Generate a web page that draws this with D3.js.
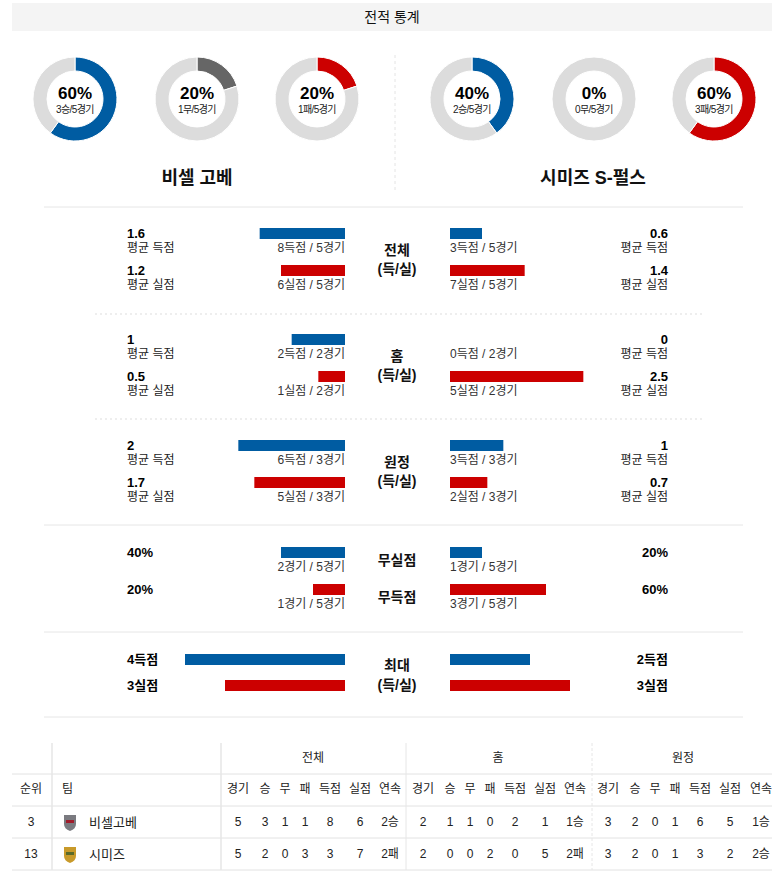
<!DOCTYPE html>
<html><head><meta charset="utf-8">
<script src="https://cdn.jsdelivr.net/npm/d3@7"></script>
<style>
body{margin:0;background:#fff;}
svg{display:block;font-family:"Liberation Sans",Arial,"Noto Sans CJK KR",sans-serif;}
</style></head><body>
<svg id="c" width="784" height="879"></svg>
<script>
// ---------- data ----------
const title = "전적 통계";
const teams = ["비셀 고베", "시미즈 S-펄스"];
const resultKinds = ["승", "무", "패"];
const teamResults = [[3, 1, 1], [2, 0, 3]];
const gamesPlayed = [5, 5];

const sectionNames = [["전체", "(득/실)"], ["홈", "(득/실)"], ["원정", "(득/실)"]];
const avgLabels = ["평균 득점", "평균 실점"];
const viselAvg = [[1.6, 1.2], [1, 0.5], [2, 1.7]];
const viselCounts = [[8, 6, 5], [2, 1, 2], [6, 5, 3]];   // scored, conceded, games
const shimizuAvg = [[0.6, 1.4], [0, 2.5], [1, 0.7]];
const shimizuCounts = [[3, 7, 5], [0, 5, 2], [3, 2, 3]];

const pctNames = ["무실점", "무득점"];
const viselPctGames = [2, 1];
const shimizuPctGames = [1, 3];

const maxNames = ["최대", "(득/실)"];
const viselMax = [4, 3];
const shimizuMax = [2, 3];

const tableGroups = ["전체", "홈", "원정"];
const tableCols = ["경기", "승", "무", "패", "득점", "실점", "연속"];
const tableRanks = [3, 13];
const tableTeams = ["비셀고베", "시미즈"];
const tableRows = [
  [[5, 3, 1, 1, 8, 6, "2승"], [2, 1, 1, 0, 2, 1, "1승"], [3, 2, 0, 1, 6, 5, "1승"]],
  [[5, 2, 0, 3, 3, 7, "2패"], [2, 0, 0, 2, 0, 5, "2패"], [3, 2, 0, 1, 3, 2, "2승"]]
];

// ---------- style ----------
const BLUE = "#005ca2", RED = "#cc0000", DGRAY = "#666666", LGRAY = "#dcdcdc";
const svg = d3.select("#c");

// header
svg.append("rect").attr("x", 12).attr("y", 3).attr("width", 760).attr("height", 28).attr("fill", "#f4f4f4");
svg.append("text").attr("x", 392).attr("y", 17).attr("text-anchor", "middle").attr("dominant-baseline", "central")
  .attr("font-size", 14).attr("fill", "#111").text(title);

// divider
svg.append("line").attr("x1", 395).attr("x2", 395).attr("y1", 55).attr("y2", 190)
  .attr("stroke", "#e4e4e4").attr("stroke-dasharray", "3,3");

// ---------- donuts ----------
const donutX = [[75, 197, 317], [472, 594, 714]];
const donutColors = [BLUE, DGRAY, RED];
const arc = d3.arc().innerRadius(28).outerRadius(42);
const pie = d3.pie().sort(null).value(d => d);
teams.forEach((t, ti) => {
  teamResults[ti].forEach((v, ki) => {
    const g = svg.append("g").attr("transform", `translate(${donutX[ti][ki]},99)`);
    const arcs = pie([v, gamesPlayed[ti] - v]);
    g.selectAll("path").data(arcs).join("path")
      .attr("d", arc)
      .attr("fill", (d, i) => i === 0 ? donutColors[ki] : LGRAY)
      .attr("stroke", "#fff").attr("stroke-width", d => d.value > 0 ? 1 : 0);
    const pct = Math.round(v / gamesPlayed[ti] * 100);
    g.append("text").attr("y", -6).attr("text-anchor", "middle").attr("dominant-baseline", "central")
      .attr("font-size", 17).attr("font-weight", "bold").attr("fill", "#000").text(pct + "%");
    g.append("text").attr("y", 10).attr("text-anchor", "middle").attr("dominant-baseline", "central")
      .attr("font-size", 10).attr("letter-spacing", -0.6).attr("fill", "#222").text(`${v}${resultKinds[ki]}/${gamesPlayed[ti]}경기`);
  });
  svg.append("text").attr("x", ti === 0 ? 197 : 593).attr("y", 178).attr("text-anchor", "middle")
    .attr("dominant-baseline", "central").attr("font-size", 18).attr("font-weight", "bold").attr("fill", "#111").text(t);
});

// ---------- separators ----------
const solidY = [207, 525, 632, 717];
solidY.forEach(y => svg.append("line").attr("x1", 44).attr("x2", 743).attr("y1", y).attr("y2", y).attr("stroke", "#e6e6e6"));
[314, 419].forEach(y => svg.append("line").attr("x1", 95).attr("x2", 703).attr("y1", y).attr("y2", y)
  .attr("stroke", "#dddddd").attr("stroke-dasharray", "2,3"));

// ---------- bar sections ----------
const LX = 345, RX = 450, BH = 11;
const avgScale = d3.scaleLinear().domain([0, 3]).range([0, 160]);
const pctScale = d3.scaleLinear().domain([0, 100]).range([0, 160]);
const maxScale = d3.scaleLinear().domain([0, 4]).range([0, 160]);

function txt(x, y, s, opt = {}) {
  return svg.append("text").attr("x", x).attr("y", y).attr("dominant-baseline", "central")
    .attr("text-anchor", opt.anchor || "start").attr("font-size", opt.size || 12)
    .attr("font-weight", opt.bold ? "bold" : "normal").attr("fill", opt.color || "#222").text(s);
}
function bar(side, y, w, color) {
  svg.append("rect").attr("x", side === 0 ? LX - w : RX).attr("y", y).attr("width", w).attr("height", BH).attr("fill", color);
}

const sectionTops = [228, 334, 440];
sectionNames.forEach((names, si) => {
  const top = sectionTops[si];
  [0, 1].forEach(k => {
    const y = top + k * 37;
    const color = k === 0 ? BLUE : RED;
    const kind = k === 0 ? "득점" : "실점";
    bar(0, y, avgScale(viselAvg[si][k]), color);
    txt(127, y + 5, String(viselAvg[si][k]), { bold: true, size: 13, color: "#000" });
    txt(127, y + 20, avgLabels[k], { color: "#222" });
    txt(LX, y + 20, `${viselCounts[si][k]}${kind} / ${viselCounts[si][2]}경기`, { anchor: "end", color: "#333" });
    bar(1, y, avgScale(shimizuAvg[si][k]), color);
    txt(668, y + 5, String(shimizuAvg[si][k]), { bold: true, size: 13, anchor: "end", color: "#000" });
    txt(668, y + 20, avgLabels[k], { anchor: "end", color: "#222" });
    txt(RX, y + 20, `${shimizuCounts[si][k]}${kind} / ${shimizuCounts[si][2]}경기`, { color: "#333" });
  });
  txt(397, top + 22, names[0], { anchor: "middle", size: 14, bold: true, color: "#111" });
  txt(397, top + 41, names[1], { anchor: "middle", size: 14, bold: true, color: "#111" });
});

// percentage section
pctNames.forEach((name, k) => {
  const y = 547 + k * 37;
  const color = k === 0 ? BLUE : RED;
  const lp = Math.round(viselPctGames[k] / gamesPlayed[0] * 100);
  const rp = Math.round(shimizuPctGames[k] / gamesPlayed[1] * 100);
  bar(0, y, pctScale(lp), color);
  bar(1, y, pctScale(rp), color);
  txt(127, y + 5, lp + "%", { bold: true, size: 13, color: "#000" });
  txt(668, y + 5, rp + "%", { bold: true, size: 13, anchor: "end", color: "#000" });
  txt(LX, y + 20, `${viselPctGames[k]}경기 / ${gamesPlayed[0]}경기`, { anchor: "end", color: "#333" });
  txt(RX, y + 20, `${shimizuPctGames[k]}경기 / ${gamesPlayed[1]}경기`, { color: "#333" });
  txt(397, y + 13, name, { anchor: "middle", size: 14, bold: true, color: "#111" });
});

// max section
const maxTops = [654, 680];
[0, 1].forEach(k => {
  const y = maxTops[k];
  const color = k === 0 ? BLUE : RED;
  const kind = k === 0 ? "득점" : "실점";
  bar(0, y, maxScale(viselMax[k]), color);
  bar(1, y, maxScale(shimizuMax[k]), color);
  txt(127, y + 5, viselMax[k] + kind, { bold: true, size: 13, color: "#000" });
  txt(668, y + 5, shimizuMax[k] + kind, { bold: true, size: 13, anchor: "end", color: "#000" });
});
txt(397, 665, maxNames[0], { anchor: "middle", size: 14, bold: true, color: "#111" });
txt(397, 685, maxNames[1], { anchor: "middle", size: 14, bold: true, color: "#111" });

// ---------- table ----------
const TL = 12, TR = 772;
const rowLines = [774, 806, 838, 870];
rowLines.forEach(y => svg.append("line").attr("x1", TL).attr("x2", TR).attr("y1", y).attr("y2", y).attr("stroke", "#e2e2e2"));
[52, 221, 406, 592].forEach((x, i) => svg.append("line").attr("x1", x).attr("x2", x).attr("y1", 743).attr("y2", 870)
  .attr("stroke", "#e6e6e6").attr("stroke-width", i < 2 ? 1.5 : 1).attr("stroke-dasharray", i === 3 ? "3,2" : null));

const groupCenters = [313, 498, 683];
const colX = [[238, 265, 285, 305, 330, 360, 390], [423, 450, 470, 490, 515, 545, 575], [608, 635, 655, 675, 700, 730, 761]];
tableGroups.forEach((g, gi) => {
  txt(groupCenters[gi], 758, g, { anchor: "middle", color: "#222" });
  tableCols.forEach((c, ci) => txt(colX[gi][ci], 789, c, { anchor: "middle", color: "#222" }));
});
txt(31, 789, "순위", { anchor: "middle", color: "#222" });
txt(62, 789, "팀", { color: "#222" });

const rowY = [822, 854];
const logoFill = [["#7a7a80", "#a01c2c"], ["#c89a2a", "#5a6a2a"]];
tableTeams.forEach((t, ri) => {
  const y = rowY[ri];
  txt(31, y, String(tableRanks[ri]), { anchor: "middle", color: "#222" });
  const lg = svg.append("g").attr("transform", `translate(70,${y})`);
  lg.append("path").attr("d", "M-6,-7 L6,-7 L6,2 Q6,7 0,9 Q-6,7 -6,2 Z").attr("fill", logoFill[ri][0]);
  lg.append("rect").attr("x", -4).attr("y", -2).attr("width", 8).attr("height", 3).attr("fill", logoFill[ri][1]);
  txt(89, y, t, { color: "#222", size: 13 });
  tableRows[ri].forEach((grp, gi) => grp.forEach((v, ci) => txt(colX[gi][ci], y, String(v), { anchor: "middle", color: "#222" })));
});
</script>
</body></html>
